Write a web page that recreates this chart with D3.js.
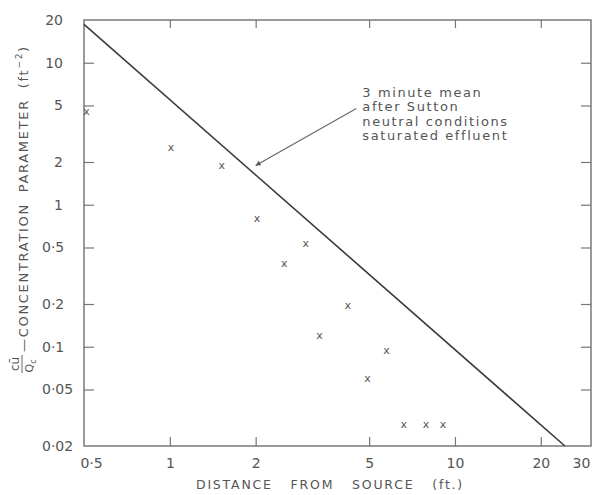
<!DOCTYPE html>
<html><head><meta charset="utf-8">
<script src="https://cdn.jsdelivr.net/npm/d3@7"></script>
<style>
body{margin:0;background:#fff;}
svg text{font-family:"DejaVu Sans","Liberation Sans",sans-serif;fill:#555;}
</style>
</head><body>
<svg id="chart" width="593" height="495"></svg>
<script>
// ---- data ----
const distance = [0.51, 1.01, 1.52, 2.02, 2.52, 3.0, 3.35, 4.21, 4.94, 5.75, 6.61, 7.91, 9.08];
const concentration = [4.55, 2.54, 1.87, 0.796, 0.383, 0.535, 0.12, 0.194, 0.0594, 0.094, 0.0283, 0.0283, 0.0283];
const suttonX = [0.5, 24.3];
const suttonY = [18.6, 0.02];
const xTicks = [0.5, 1, 2, 5, 10, 20, 30];
const xTickLabels = ["0·5", "1", "2", "5", "10", "20", "30"];
const yTicks = [20, 10, 5, 2, 1, 0.5, 0.2, 0.1, 0.05, 0.02];
const yTickLabels = ["20", "10", "5", "2", "1", "0·5", "0·2", "0·1", "0·05", "0·02"];
const annotationLines = ["3 minute mean", "after Sutton", "neutral conditions", "saturated effluent"];
const annotationFrom = [4.51, 4.76];
const annotationTo = [2.0, 1.89];

const svg = d3.select("#chart");
const L = 84, R = 591, T = 20, B = 446;
const x = d3.scaleLog().domain([0.5, 30]).range([L, R]);
const y = d3.scaleLog().domain([0.02, 20]).range([B, T]);

const innerX = xTicks.filter(v => v > 0.5 && v < 30);
const innerY = yTicks.filter(v => v > 0.02 && v < 20);

// inner tick marks via axes
function tickAxis(axis, tx, ty){
  const g = svg.append("g").attr("transform", `translate(${tx},${ty})`).call(axis);
  g.select(".domain").remove();
  g.selectAll("line").attr("stroke", "#777").attr("stroke-width", 1.2);
  g.selectAll("text").remove();
}
tickAxis(d3.axisBottom(x).tickValues(innerX).tickSize(-9), 0, B);
tickAxis(d3.axisTop(x).tickValues(innerX).tickSize(-8), 0, T);
tickAxis(d3.axisLeft(y).tickValues(innerY).tickSize(-10), L, 0);
tickAxis(d3.axisRight(y).tickValues(innerY).tickSize(-10), R, 0);

// frame
svg.append("rect").attr("x", L).attr("y", T).attr("width", R - L).attr("height", B - T)
  .attr("fill", "none").attr("stroke", "#6f6f6f").attr("stroke-width", 1.4);

// x tick labels
const xl = svg.append("g").attr("transform", `translate(0,${B})`)
  .call(d3.axisBottom(x).tickValues(xTicks).tickSize(0).tickPadding(12)
    .tickFormat((d, i) => xTickLabels[i]));
xl.select(".domain").remove();
xl.selectAll("text").attr("font-size", 14).attr("fill", "#666")
  .attr("font-family", "DejaVu Sans")
  .attr("dx", d => d === 0.5 ? 7 : (d === 30 ? -10 : 0));

// y tick labels
const yl = svg.append("g").attr("transform", `translate(${L},0)`)
  .call(d3.axisLeft(y).tickValues(yTicks).tickSize(0).tickPadding(21)
    .tickFormat((d, i) => yTickLabels[i]));
yl.select(".domain").remove();
yl.selectAll("text").attr("font-size", 14).attr("fill", "#666")
  .attr("font-family", "DejaVu Sans")
  .each(function(d){
    if (d < 1) d3.select(this).attr("text-anchor", "start").attr("x", -42);
  });

// Sutton line
svg.append("path")
  .datum(suttonX.map((v, i) => [v, suttonY[i]]))
  .attr("d", d3.line().x(d => x(d[0])).y(d => y(d[1])))
  .attr("fill", "none").attr("stroke", "#3a3a3a").attr("stroke-width", 1.6);

// data markers
svg.append("g").selectAll("text").data(distance).join("text")
  .attr("x", d => x(d))
  .attr("y", (d, i) => y(concentration[i]) + 3.3)
  .attr("text-anchor", "middle").attr("font-size", 11).attr("fill", "#555")
  .text("x");

// annotation arrow
svg.append("defs").append("marker").attr("id", "ah")
  .attr("viewBox", "0 0 10 10").attr("refX", 10).attr("refY", 5)
  .attr("markerWidth", 8).attr("markerHeight", 5).attr("orient", "auto")
  .attr("markerUnits", "userSpaceOnUse")
  .append("path").attr("d", "M0,0 L10,5 L0,10 Z").attr("fill", "#555");
svg.append("line")
  .attr("x1", x(annotationFrom[0])).attr("y1", y(annotationFrom[1]))
  .attr("x2", x(annotationTo[0])).attr("y2", y(annotationTo[1]))
  .attr("stroke", "#666").attr("stroke-width", 1.1).attr("marker-end", "url(#ah)");

const ann = svg.append("text")
  .attr("x", x(annotationFrom[0]) + 6)
  .attr("y", y(annotationFrom[1]) - 12)
  .attr("font-size", 13).attr("letter-spacing", 1.6).attr("fill", "#555");
ann.selectAll("tspan").data(annotationLines).join("tspan")
  .attr("x", x(annotationFrom[0]) + 6)
  .attr("dy", (d, i) => i === 0 ? 0 : 14.5)
  .text(d => d);

// x axis title
svg.append("text").attr("x", 330).attr("y", 489).attr("text-anchor", "middle")
  .attr("font-size", 12.5).attr("letter-spacing", 1.8).attr("word-spacing", 12).attr("fill", "#555")
  .text("DISTANCE FROM SOURCE (ft.)");

// y axis title (rotated)
const yt = svg.append("g").attr("transform", "translate(28,352) rotate(-90)");
const ytxt = yt.append("text").attr("x", 0).attr("y", 0)
  .attr("font-size", 13).attr("letter-spacing", 1.7).attr("word-spacing", 5).attr("fill", "#555");
ytxt.append("tspan").text("—CONCENTRATION PARAMETER (ft");
ytxt.append("tspan").attr("dy", -6).attr("font-size", 9).text("−2");
ytxt.append("tspan").attr("dy", 6).text(")");
// fraction c ū / Q_c
yt.append("text").attr("x", -12).attr("y", -9).attr("text-anchor", "middle")
  .attr("font-size", 12).attr("fill", "#555").text("cū");
yt.append("line").attr("x1", -21).attr("x2", -3).attr("y1", -6).attr("y2", -6)
  .attr("stroke", "#666").attr("stroke-width", 1);
const den = yt.append("text").attr("x", -14).attr("y", 5).attr("text-anchor", "middle")
  .attr("font-size", 11).attr("fill", "#555");
den.append("tspan").text("Q");
den.append("tspan").attr("dy", 3).attr("font-size", 8).text("c");
</script>
</body></html>
